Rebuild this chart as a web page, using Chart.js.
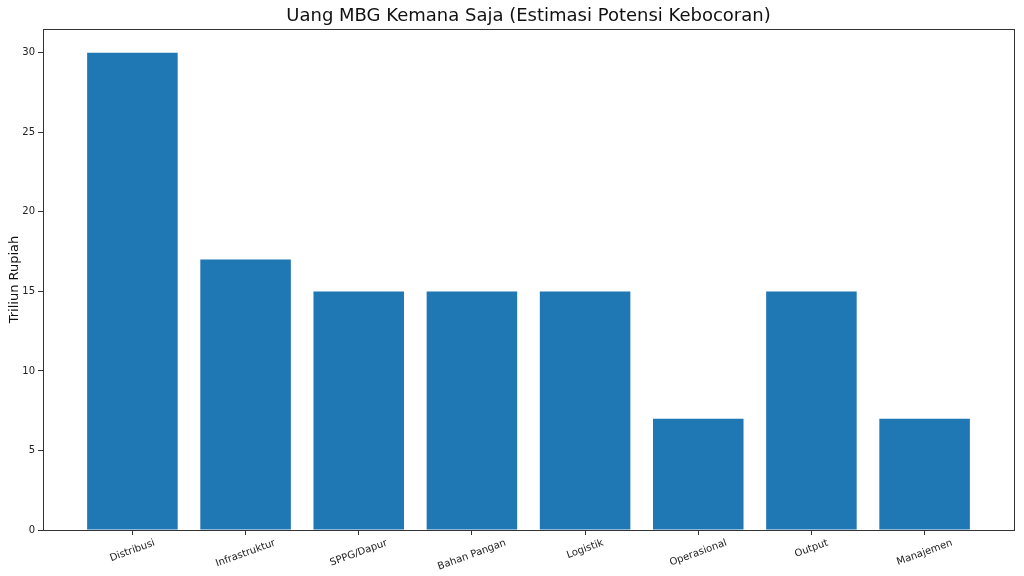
<!DOCTYPE html>
<html>
<head>
<meta charset="utf-8">
<title>Uang MBG Kemana Saja</title>
<script src="https://cdn.jsdelivr.net/npm/chart.js@4/dist/chart.umd.min.js"></script>
<style>
  html, body { margin: 0; padding: 0; background: #fff; }
  canvas { display: block; }
</style>
</head>
<body>
<canvas id="bar-chart" width="1024" height="576"></canvas>
<script>
// data
const categories = ["Distribusi", "Infrastruktur", "SPPG/Dapur", "Bahan Pangan",
                    "Logistik", "Operasional", "Output", "Manajemen"];
const values = [30, 17, 15, 15, 15, 7, 15, 7];
const yTicks = [0, 5, 10, 15, 20, 25, 30];

const barColor = "#1f77b4";
const axisColor = "#333333";
const font = "'DejaVu Sans', sans-serif";

// box round the plot area (matplotlib spines)
const frame = {
  id: "frame",
  afterDatasetsDraw(chart) {
    const a = chart.chartArea;
    const ctx = chart.ctx;
    ctx.save();
    ctx.strokeStyle = axisColor;
    ctx.lineWidth = 1;
    ctx.strokeRect(Math.round(a.left) + 0.5, Math.round(a.top) + 0.5,
                   Math.round(a.right - a.left), Math.round(a.bottom - a.top));
    ctx.restore();
  }
};

// x labels rotated 20deg, centred on the tick like matplotlib
const rotatedLabels = {
  id: "rotatedLabels",
  afterDraw(chart) {
    const ctx = chart.ctx;
    const xs = chart.scales.x;
    const top = chart.chartArea.bottom + 7;
    const ang = 20 * Math.PI / 180;
    ctx.save();
    ctx.font = "10px " + font;
    ctx.fillStyle = "#222";
    ctx.textAlign = "center";
    ctx.textBaseline = "middle";
    for (var i = 0; i < categories.length; i++) {
      const w = ctx.measureText(categories[i]).width;
      const h = w * Math.sin(ang) + 12 * Math.cos(ang);
      ctx.save();
      ctx.translate(xs.getPixelForValue(i), top + h / 2);
      ctx.rotate(-ang);
      ctx.fillText(categories[i], 0, 0);
      ctx.restore();
    }
    ctx.restore();
  }
};

new Chart(document.getElementById("bar-chart"), {
  type: "bar",
  data: {
    datasets: [{
      data: values.map((v, i) => ({ x: i, y: v })),
      backgroundColor: barColor,
      borderWidth: 0,
      categoryPercentage: 0.8,
      barPercentage: 1.0
    }]
  },
  options: {
    responsive: false,
    animation: false,
    devicePixelRatio: 1,
    layout: { padding: { left: 0, right: 10, top: 0, bottom: 0 } },
    plugins: {
      legend: { display: false },
      tooltip: { enabled: false },
      title: {
        display: true,
        fullSize: false,
        text: "Uang MBG Kemana Saja (Estimasi Potensi Kebocoran)",
        color: "#111",
        font: { family: font, size: 18, weight: "normal", lineHeight: 1.2 },
        padding: { top: 6, bottom: 1.4 }
      }
    },
    scales: {
      x: {
        type: "linear",
        offset: false,
        min: -0.79,
        max: 7.79,
        afterBuildTicks: s => { s.ticks = categories.map((c, i) => ({ value: i })); },
        afterFit: s => { s.height = 46; },
        ticks: { display: false },
        grid: { offset: false, drawOnChartArea: false, drawTicks: true, tickLength: 5, color: axisColor },
        border: { display: true, color: axisColor }
      },
      y: {
        min: 0,
        max: 31.5,
        afterBuildTicks: s => { s.ticks = yTicks.map(v => ({ value: v })); },
        afterFit: s => { s.width = 43; },
        ticks: {
          color: "#222",
          padding: 3,
          font: { family: font, size: 10 }
        },
        grid: { drawOnChartArea: false, drawTicks: true, tickLength: 5, color: axisColor },
        border: { display: true, color: axisColor },
        title: {
          display: true,
          text: "Triliun Rupiah",
          color: "#111",
          font: { family: font, size: 13 },
          padding: { top: 7, bottom: 0 }
        }
      }
    }
  },
  plugins: [frame, rotatedLabels]
});
</script>
</body>
</html>
